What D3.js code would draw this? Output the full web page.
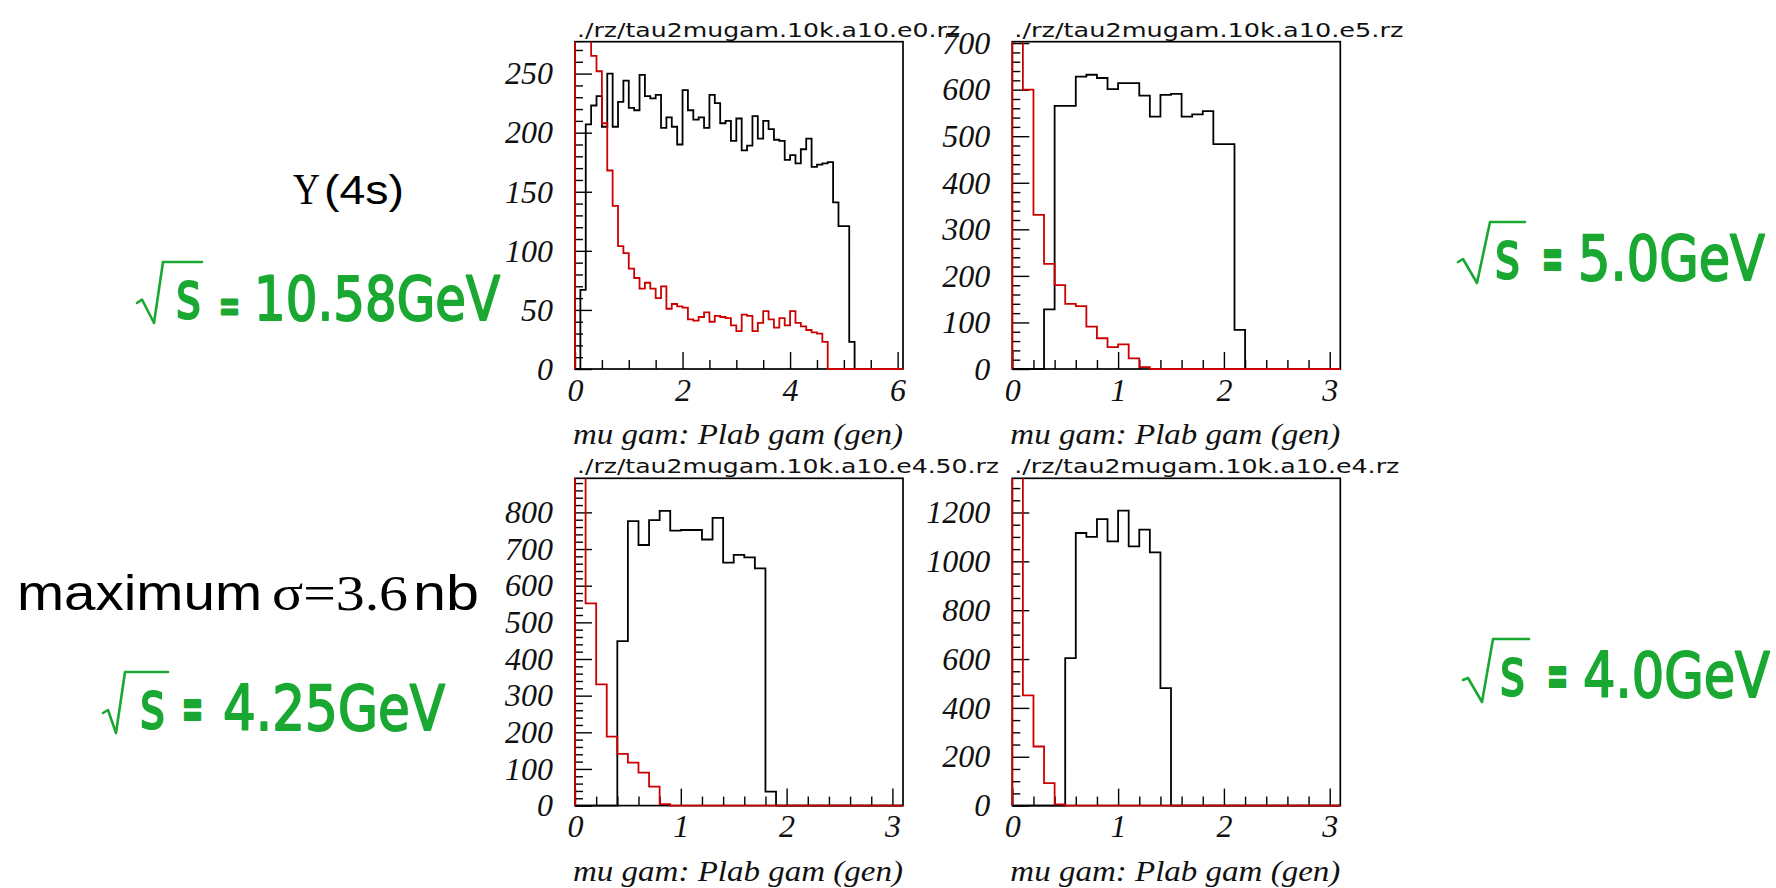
<!DOCTYPE html>
<html>
<head>
<meta charset="utf-8">
<script src="https://cdn.jsdelivr.net/npm/d3@7"></script>
<style>
  body { margin: 0; background: #fff; }
</style>
</head>
<body>
<div id="chart"></div>
<script>
// ---- data ----
const binWidth = 0.1;

const panelTitles = [
    "./rz/tau2mugam.10k.a10.e0.rz",
    "./rz/tau2mugam.10k.a10.e5.rz",
    "./rz/tau2mugam.10k.a10.e4.50.rz",
    "./rz/tau2mugam.10k.a10.e4.rz"
];
const xAxisTitle = "mu gam: Plab gam (gen)";

const xMaxes = [6.1, 3.1, 3.1, 3.1];
const yMaxes = [277, 703, 893, 1340];
const xMajorTicks = [[0, 2, 4, 6], [0, 1, 2, 3], [0, 1, 2, 3], [0, 1, 2, 3]];
const xMinorSteps = [0.5, 0.2, 0.2, 0.2];
const yMajorTicks = [
    [0, 50, 100, 150, 200, 250],
    [0, 100, 200, 300, 400, 500, 600, 700],
    [0, 100, 200, 300, 400, 500, 600, 700, 800],
    [0, 200, 400, 600, 800, 1000, 1200]
];
const yMinorSteps = [10, 20, 20, 50];

// black histograms (bin contents, bins of 0.1 starting at 0)
const blackE0 = [0, 67, 207, 223, 231, 205, 250, 205, 226, 244, 221, 219, 249, 231, 229, 232, 204, 213, 205, 190,
    236, 219, 211, 213, 204, 232, 225, 208, 210, 193, 212, 185, 189, 214, 195, 210, 203, 194, 193, 177,
    181, 174, 186, 195, 171, 173, 174, 175, 141, 121, 121, 23];
const blackE5 = [0, 0, 0, 128, 565, 565, 628, 632, 625, 601, 614, 614, 587, 542, 589, 591, 542, 547, 554, 483, 483, 84];
const blackE450 = [0, 0, 0, 0, 449, 776, 711, 779, 804, 750, 752, 752, 726, 785, 663, 684, 677, 647, 38];
const blackE4 = [0, 0, 0, 0, 0, 604, 1116, 1100, 1173, 1082, 1208, 1061, 1130, 1037, 481];

// red histograms (first bins run off the top of the frame)
const redE0 = [620, 410, 300, 265, 252, 208, 168, 138, 104, 98, 85, 77, 68, 73, 68, 60, 70, 51, 55, 53,
    52, 42, 41, 44, 48, 40, 45, 44, 43, 37, 32, 46, 45, 32, 39, 49, 42, 35, 43, 37,
    49, 39, 36, 33, 31, 30, 23];
const redE5 = [1100, 600, 331, 226, 180, 140, 135, 91, 66, 47, 53, 23, 4];
const redE450 = [1500, 552, 331, 188, 141, 117, 90, 52, 4];
const redE4 = [2600, 451, 242, 92, 5];

const blackSeries = [blackE0, blackE5, blackE450, blackE4];
const redSeries = [redE0, redE5, redE450, redE4];

// ---- layout ----
const W = 1776, H = 888;
const frameW = 328, frameH = 327.3;
const frames = [
    { x: 575, y: 41.7 }, { x: 1012.3, y: 41.7 },
    { x: 575, y: 478.3 }, { x: 1012.3, y: 478.3 }
];
const titleLengths = [383, 389, 422, 385];
const green = "#1aa832";
const redColor = "#cc0000";

const svg = d3.select("#chart").append("svg")
    .attr("width", W).attr("height", H)
    .style("display", "block");
svg.append("rect").attr("width", W).attr("height", H).attr("fill", "#fff");

frames.forEach((f, p) => {
    const x = d3.scaleLinear().domain([0, xMaxes[p]]).range([f.x, f.x + frameW]);
    const y = d3.scaleLinear().domain([0, yMaxes[p]]).range([f.y + frameH, f.y]);

    // frame
    svg.append("rect")
        .attr("x", f.x).attr("y", f.y).attr("width", frameW).attr("height", frameH)
        .attr("fill", "none").attr("stroke", "#000").attr("stroke-width", 1.7);

    // ticks (inside the frame)
    const yMinor = d3.range(0, yMaxes[p], yMinorSteps[p]).filter(v => !yMajorTicks[p].includes(v));
    const xMinor = d3.range(0, xMaxes[p] - 1e-9, xMinorSteps[p]).filter(v => !xMajorTicks[p].some(m => Math.abs(m - v) < 1e-6));

    const yAxisMinor = svg.append("g").attr("transform", `translate(${f.x},0)`)
        .call(d3.axisLeft(y).tickValues(yMinor).tickSize(-8).tickFormat(""));
    const yAxisMajor = svg.append("g").attr("transform", `translate(${f.x},0)`)
        .call(d3.axisLeft(y).tickValues(yMajorTicks[p]).tickSize(-17).tickPadding(22).tickFormat(d3.format("d")));
    const xAxisMinor = svg.append("g").attr("transform", `translate(0,${f.y + frameH})`)
        .call(d3.axisBottom(x).tickValues(xMinor).tickSize(-9).tickFormat(""));
    const xAxisMajor = svg.append("g").attr("transform", `translate(0,${f.y + frameH})`)
        .call(d3.axisBottom(x).tickValues(xMajorTicks[p]).tickSize(-17).tickPadding(9).tickFormat(d3.format("d")));

    [yAxisMinor, yAxisMajor, xAxisMinor, xAxisMajor].forEach(g => {
        g.select(".domain").remove();
        g.selectAll("line").attr("stroke", "#000").attr("stroke-width", 1.4);
        g.selectAll("text")
            .attr("fill", "#111")
            .style("font-family", "'Liberation Serif', 'Times New Roman', serif")
            .style("font-style", "italic")
            .style("font-size", "32px");
    });

    // histograms, clipped to the frame
    const clipId = "clip" + p;
    svg.append("clipPath").attr("id", clipId).append("rect")
        .attr("x", f.x - 2).attr("y", f.y).attr("width", frameW + 4).attr("height", frameH + 2);

    const line = d3.line().x(d => x(d[0])).y(d => y(d[1])).curve(d3.curveStepAfter);
    const steps = vals => [[0, 0]]
        .concat(vals.map((v, i) => [i * binWidth, v]))
        .concat([[vals.length * binWidth, 0], [xMaxes[p], 0]]);

    svg.append("path").datum(steps(blackSeries[p]))
        .attr("clip-path", `url(#${clipId})`)
        .attr("fill", "none").attr("stroke", "#000").attr("stroke-width", 1.8)
        .attr("d", line);
    svg.append("path").datum(steps(redSeries[p]))
        .attr("clip-path", `url(#${clipId})`)
        .attr("fill", "none").attr("stroke", redColor).attr("stroke-width", 1.8)
        .attr("d", line);

    // file name above the frame
    svg.append("text")
        .attr("x", f.x + 2).attr("y", f.y - 5)
        .attr("textLength", titleLengths[p]).attr("lengthAdjust", "spacingAndGlyphs")
        .style("font-family", "'DejaVu Sans', sans-serif").style("font-size", "20px")
        .attr("fill", "#111")
        .text(panelTitles[p]);

    // x axis title
    svg.append("text")
        .attr("x", f.x - 2).attr("y", f.y + frameH + 75)
        .attr("textLength", 330).attr("lengthAdjust", "spacingAndGlyphs")
        .style("font-family", "'Liberation Serif', 'Times New Roman', serif")
        .style("font-style", "italic").style("font-size", "30px")
        .attr("fill", "#111")
        .text(xAxisTitle);
});

// ---- annotations ----
const sansFont = "'Liberation Sans', Arial, sans-serif";
const serifFont = "'Liberation Serif', 'Times New Roman', serif";

function addText(txt, x, yb, font, size, len) {
    svg.append("text").attr("x", x).attr("y", yb)
        .attr("textLength", len).attr("lengthAdjust", "spacingAndGlyphs")
        .style("font-family", font).style("font-size", size + "px")
        .attr("fill", "#000").text(txt);
}
addText("\u03A5", 293, 204, serifFont, 44, 27);
addText("(4s)", 324, 204, sansFont, 40, 80);
addText("maximum", 17, 610, sansFont, 50, 245);
addText("\u03C3=3.6", 272, 610, serifFont, 50, 136);
addText("nb", 413, 610, sansFont, 50, 66);

// green sqrt(s) labels; text is scaled vertically to the hand-drawn look
const greenFont = "'DejaVu Sans', sans-serif";
const energyLabels = [
    { value: "10.58GeV", sqrt: [[137, 303], [142, 299.5], [154, 323], [163, 262], [202, 262]], sx: 176, eqx: 219, eqY: 2, eqS: 1.9, vx: 254, yb: 320, len: 246, fs: 50 },
    { value: "4.25GeV", sqrt: [[103, 713], [108, 710], [116, 733], [125, 672], [168, 672]], sx: 140, eqx: 182, eqY: 0, eqS: 2.5, vx: 223, yb: 730, len: 222, fs: 51 },
    { value: "5.0GeV", sqrt: [[1458, 262], [1463, 259], [1477, 283], [1490, 222], [1525, 222]], sx: 1495, eqx: 1542, eqY: 0, eqS: 2.5, vx: 1578, yb: 280, len: 187, fs: 51 },
    { value: "4.0GeV", sqrt: [[1463, 680], [1468, 678], [1482, 702], [1493, 639], [1529, 639]], sx: 1500, eqx: 1547, eqY: 0, eqS: 2.5, vx: 1583, yb: 697, len: 187, fs: 51 }
];

function greenText(txt, x, yb, fs, sy, len) {
    svg.append("g").attr("transform", `translate(${x},${yb}) scale(1,${sy})`)
        .append("text").attr("x", 0).attr("y", 0)
        .attr("textLength", len).attr("lengthAdjust", "spacingAndGlyphs")
        .style("font-family", greenFont).style("font-size", fs + "px")
        .attr("fill", green).attr("stroke", green).attr("stroke-width", 1.6)
        .attr("stroke-linejoin", "round")
        .text(txt);
}
energyLabels.forEach(l => {
    svg.append("path").attr("d", d3.line()(l.sqrt))
        .attr("fill", "none").attr("stroke", green).attr("stroke-width", 2.6)
        .attr("stroke-linejoin", "round").attr("stroke-linecap", "round");
    greenText("s", l.sx, l.yb - 2, 48, 1.37, 25);
    greenText("=", l.eqx, l.yb + l.eqY, 25, l.eqS, 21);
    greenText(l.value, l.vx, l.yb, l.fs, 1.21, l.len);
});
</script>
</body>
</html>
